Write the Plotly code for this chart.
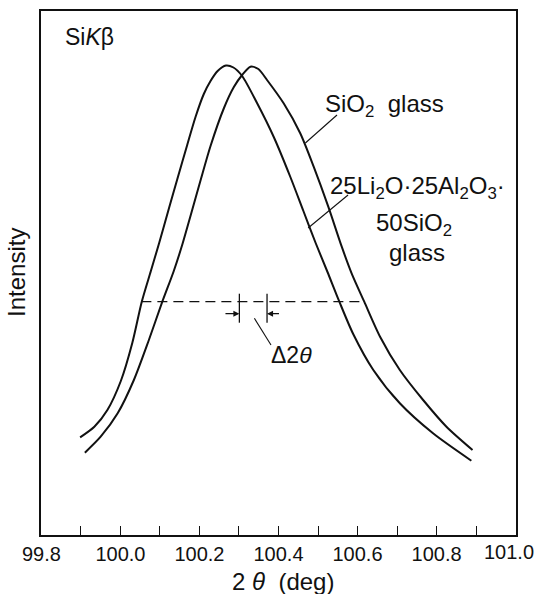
import plotly.graph_objects as go

# ---- data (intensity in arbitrary units) ----
li_x = [99.898, 99.934, 99.967, 100.001, 100.030, 100.054, 100.077, 100.098, 100.123,
        100.144, 100.169, 100.190, 100.211, 100.228, 100.246, 100.267, 100.286, 100.308,
        100.346, 100.388, 100.430, 100.463, 100.494, 100.524, 100.554, 100.589, 100.640,
        100.707, 100.791, 100.888]
li_y = [97.7, 108.3, 125, 154, 192, 233.3, 264, 292, 327,
        356, 390, 418, 441, 454, 464, 469.5, 467.5, 459,
        431.7, 398, 358, 324, 292, 263, 233.3, 201, 165,
        131.7, 101.7, 74.3]

si_x = [99.910, 99.950, 99.993, 100.034, 100.072, 100.106, 100.135, 100.157, 100.178,
        100.203, 100.228, 100.262, 100.287, 100.308, 100.329, 100.349, 100.371, 100.413,
        100.455, 100.489, 100.526, 100.560, 100.585, 100.617, 100.657, 100.707, 100.766,
        100.825, 100.891]
si_y = [82.3, 98.3, 121.7, 155, 195, 233.3, 264, 291, 320,
        355, 389, 427, 448, 460, 468.3, 466, 455, 431.7,
        401.7, 368.3, 328.3, 288.3, 261.7, 233.3, 198.3, 165, 135,
        108.3, 85]

half_level = 233.3
half_x = [100.053, 100.617]           # dashed half-maximum line extent
centers = [100.301, 100.371]          # peak-width centres (Δ2θ markers)

tick_vals = [99.8, 99.9, 100.0, 100.1, 100.2, 100.3, 100.4, 100.5, 100.6, 100.7, 100.8, 100.9, 101.0]
tick_text = ["99.8", "", "100.0", "", "100.2", "", "100.4", "", "100.6", "", "100.8", "", ""]
last_tick_label = "101.0"   # drawn separately so it stays inside the page edge

FONT = "Liberation Sans, Arial, sans-serif"
BLACK = "#111111"

fig = go.Figure()
for xs, ys in ((li_x, li_y), (si_x, si_y)):
    fig.add_trace(go.Scatter(x=xs, y=ys, mode="lines",
                             line=dict(color=BLACK, width=2, shape="spline", smoothing=0.75),
                             showlegend=False, hoverinfo="skip"))
# half-maximum dashed line
fig.add_trace(go.Scatter(x=half_x, y=[half_level, half_level], mode="lines",
                         line=dict(color=BLACK, width=1.3, dash="10px,6px"),
                         showlegend=False, hoverinfo="skip"))

shapes = []
# Δ2θ vertical markers
for c in centers:
    shapes.append(dict(type="line", xref="x", yref="y", x0=c, x1=c,
                       y0=half_level - 21, y1=half_level + 8,
                       line=dict(color=BLACK, width=1.3)))
# leader lines
leaders = [
    ((100.548, 420), (100.468, 392)),   # SiO2 glass
    ((100.576, 340), (100.475, 307)),   # Li glass
    ((100.339, 216.7), (100.381, 190)), # Δ2θ
]
for (xa, ya), (xb, yb) in leaders:
    shapes.append(dict(type="line", xref="x", yref="y", x0=xa, y0=ya, x1=xb, y1=yb,
                       line=dict(color=BLACK, width=1.1)))

annotations = [
    # arrows of Δ2θ
    dict(x=centers[0], y=half_level - 12, ax=100.262, ay=half_level - 12, xref="x", yref="y",
         axref="x", ayref="y", showarrow=True, arrowhead=2, arrowsize=1, arrowwidth=1.2,
         arrowcolor=BLACK, text=""),
    dict(x=centers[1], y=half_level - 12, ax=100.405, ay=half_level - 12, xref="x", yref="y",
         axref="x", ayref="y", showarrow=True, arrowhead=2, arrowsize=1, arrowwidth=1.2,
         arrowcolor=BLACK, text=""),
    dict(x=100.434, y=180, xref="x", yref="y", showarrow=False,
         text="Δ2<i>θ</i>", font=dict(family=FONT, size=23, color=BLACK)),
    dict(x=99.921, y=498, xref="x", yref="y", showarrow=False,
         text="Si<i>K</i>β", font=dict(family=FONT, size=23, color=BLACK)),
    dict(x=100.667, y=430, xref="x", yref="y", showarrow=False,
         text="SiO<sub>2</sub>  glass", font=dict(family=FONT, size=24, color=BLACK)),
    dict(x=100.751, y=348, xref="x", yref="y", showarrow=False,
         text="25Li<sub>2</sub>O·25Al<sub>2</sub>O<sub>3</sub>·", font=dict(family=FONT, size=24, color=BLACK)),
    dict(x=100.743, y=311, xref="x", yref="y", showarrow=False,
         text="50SiO<sub>2</sub>", font=dict(family=FONT, size=24, color=BLACK)),
    dict(x=100.751, y=283, xref="x", yref="y", showarrow=False,
         text="glass", font=dict(family=FONT, size=24, color=BLACK)),
    # last tick label
    dict(x=1, y=0, xref="paper", yref="paper", xanchor="right", yanchor="middle",
         xshift=20, yshift=-17, showarrow=False,
         text=last_tick_label, font=dict(family=FONT, size=20, color=BLACK)),
    # axis titles
    dict(x=0, y=0.5, xref="paper", yref="paper", xanchor="center", yanchor="middle",
         xshift=-25, showarrow=False, textangle=-90,
         text="Intensity", font=dict(family=FONT, size=24, color=BLACK)),
    dict(x=100.412, y=0, xref="x", yref="paper", xanchor="center", yanchor="middle",
         yshift=-46, showarrow=False,
         text="2 <i>θ</i>  (deg)", font=dict(family=FONT, size=24, color=BLACK)),
]

fig.update_layout(
    width=537, height=594,
    margin=dict(l=41, r=21, t=11, b=59, autoexpand=False),
    paper_bgcolor="white", plot_bgcolor="white",
    shapes=shapes, annotations=annotations,
    xaxis=dict(range=[99.799, 101.001], tickvals=tick_vals, ticktext=tick_text,
               ticks="inside", ticklen=9, tickwidth=1.3, tickcolor=BLACK,
               automargin=False,
               showline=True, linecolor=BLACK, linewidth=1.6, mirror=True,
               showgrid=False, zeroline=False,
               tickfont=dict(family=FONT, size=20, color=BLACK)),
    yaxis=dict(range=[0, 524], showticklabels=False, ticks="", automargin=False,
               showline=True, linecolor=BLACK, linewidth=1.6, mirror=True,
               showgrid=False, zeroline=False),
)

fig.write_html("out.html")
